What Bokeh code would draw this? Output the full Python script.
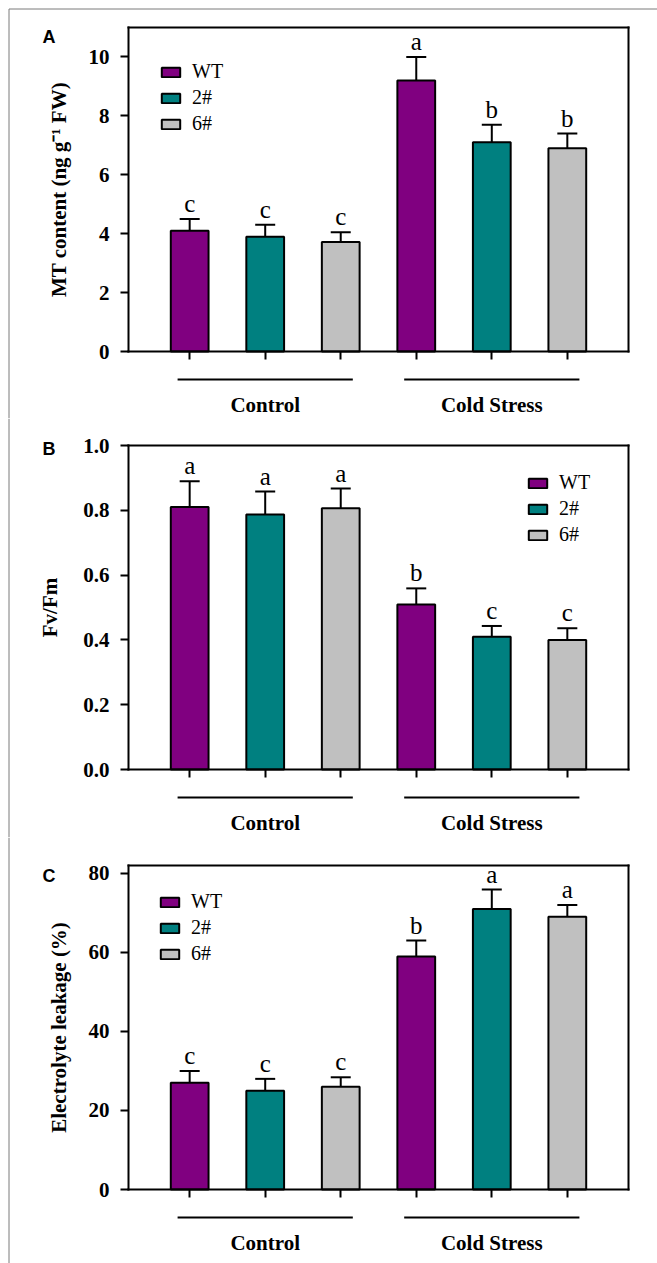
from bokeh.plotting import figure
from bokeh.models import (Range1d, FixedTicker, Whisker, TeeHead, LinearAxis,
                          Legend, LegendItem, ColumnDataSource, PrintfTickFormatter)
from bokeh.layouts import column
from bokeh.embed import file_html
from bokeh.resources import INLINE
from bokeh.core.properties import value

# ---------------- data ----------------
groups = ["Control", "Cold Stress"]
lines = ["WT", "2#", "6#"]
colors = ["#800080", "#008080", "#C0C0C0"]
panel_letters = ["A", "B", "C"]

# order: Control WT, 2#, 6#, Cold Stress WT, 2#, 6#
mt_mean = [4.1, 3.9, 3.72, 9.2, 7.1, 6.9]
mt_err = [0.4, 0.4, 0.33, 0.8, 0.6, 0.5]
mt_sig = ["c", "c", "c", "a", "b", "b"]

fvfm_mean = [0.81, 0.787, 0.806, 0.509, 0.41, 0.40]
fvfm_err = [0.08, 0.071, 0.061, 0.05, 0.033, 0.036]
fvfm_sig = ["a", "a", "a", "b", "c", "c"]

el_mean = [27.0, 25.0, 26.0, 59.0, 71.0, 69.0]
el_err = [3.0, 3.0, 2.4, 4.0, 4.9, 3.0]
el_sig = ["c", "c", "c", "b", "a", "a"]

mt_ticks = [0, 2, 4, 6, 8, 10]
fvfm_ticks = [0.0, 0.2, 0.4, 0.6, 0.8, 1.0]
el_ticks = [0, 20, 40, 60, 80]

# ---------------- layout constants ----------------
FIG_W = 657
BOX_L = 128          # left edge of the plot box inside the figure (px)
BOX_W = 500
BOX_H = 324
X0, X1 = 0.19, 6.81  # data x at the box edges
PPX = BOX_W / (X1 - X0)
SERIF = "Liberation Serif"
BORDER = "#7a7a7a"


def style_axis(ax):
    ax.axis_line_width = 2
    ax.axis_line_color = "black"
    ax.axis_line_cap = "square"
    ax.major_tick_line_width = 2
    ax.major_tick_line_color = "black"
    ax.major_tick_in = 0
    ax.major_tick_out = 8
    ax.minor_tick_line_color = None


def panel(means, errs, sigs, ymax, ticks, fmt, ytitle, letter, letter_top,
          leg_xy, h, top, title_standoff, border_top):
    ppy = BOX_H / ymax
    bottom = h - top - BOX_H
    xs0 = X0 - BOX_L / PPX
    xs1 = X1 + (FIG_W - BOX_L - BOX_W) / PPX
    ys0 = -bottom / ppy
    ys1 = ymax + top / ppy

    p = figure(width=FIG_W, height=h, x_range=Range1d(xs0, xs1), y_range=Range1d(ys0, ys1),
               output_backend="svg", toolbar_location=None, min_border=0)
    p.grid.visible = False
    p.outline_line_color = None
    p.background_fill_color = "white"
    p.border_fill_color = "white"

    xs = [g * 3 + s + 1 for g in range(len(groups)) for s in range(len(lines))]
    items = []
    for s, name in enumerate(lines):
        idx = [s, s + 3]
        src = ColumnDataSource(dict(
            x=[xs[i] for i in idx],
            top=[means[i] for i in idx],
            upper=[means[i] + errs[i] for i in idx],
            sig=[sigs[i] for i in idx]))
        r = p.vbar(x="x", top="top", width=0.5, bottom=0, source=src,
                   fill_color=colors[s], line_color="black", line_width=2)
        items.append(LegendItem(label=name, renderers=[r]))
        w = Whisker(source=src, base="x", upper="upper", lower="top",
                    upper_head=TeeHead(size=20, line_width=2, line_color="black"),
                    lower_head=None, line_width=2, line_color="black", level="glyph")
        p.add_layout(w)
        p.text(x="x", y="upper", text="sig", source=src, text_font=value(SERIF),
               text_font_size="25px", text_align="center", text_baseline="bottom",
               y_offset=-2, text_color="black")

    # axes, fixed at the plot box
    xa = p.xaxis[0]
    ya = p.yaxis[0]
    style_axis(xa)
    style_axis(ya)
    xa.fixed_location = 0
    xa.bounds = (X0, X1)
    xa.ticker = FixedTicker(ticks=xs)
    xa.major_label_overrides = {x: "" for x in xs}
    xa.major_label_text_font_size = "1px"
    ya.fixed_location = X0
    ya.bounds = (0, ymax)
    ya.ticker = FixedTicker(ticks=ticks)
    ya.formatter = PrintfTickFormatter(format=fmt)
    ya.major_label_text_font = SERIF
    ya.major_label_text_font_style = "bold"
    ya.major_label_text_font_size = "21px"
    ya.major_label_text_color = "black"
    ya.major_label_standoff = 11
    ya.axis_label = ytitle
    ya.axis_label_text_font = SERIF
    ya.axis_label_text_font_style = "bold"
    ya.axis_label_text_font_size = "21px"
    ya.axis_label_text_color = "black"
    ya.axis_label_standoff = title_standoff

    top_ax = LinearAxis(fixed_location=ymax, bounds=(X0, X1), ticker=FixedTicker(ticks=[]),
                        major_label_text_font_size="1px")
    style_axis(top_ax)
    top_ax.major_tick_line_color = None
    p.add_layout(top_ax, "above")
    right_ax = LinearAxis(fixed_location=X1, bounds=(0, ymax), ticker=FixedTicker(ticks=[]),
                          major_label_text_font_size="1px")
    style_axis(right_ax)
    right_ax.major_tick_line_color = None
    p.add_layout(right_ax, "right")

    leg = Legend(items=items, location=leg_xy, glyph_width=23, glyph_height=12,
                 label_standoff=10, label_height=12, spacing=3, padding=0, margin=0,
                 border_line_color=None, background_fill_alpha=0,
                 label_text_font=SERIF, label_text_font_size="20px",
                 label_text_color="black")
    p.add_layout(leg)

    # group lines and labels below the axis
    gc = [g * 3 + 2 for g in range(len(groups))]
    p.segment(x0=[c - 1.16 for c in gc], x1=[c + 1.16 for c in gc],
              y0=[-28 / ppy] * len(gc), y1=[-28 / ppy] * len(gc),
              line_width=2, line_color="black")
    p.text(x=gc, y=[-53 / ppy] * len(gc), text=groups, text_align="center",
           text_baseline="middle", text_font=value(SERIF), text_font_style="bold",
           text_font_size="21px", text_color="black")

    # panel letter
    p.text(x=[xs0 + 42 / PPX], y=[ys1 - letter_top / ppy], text=[letter],
           text_align="left", text_baseline="top", text_font=value("Liberation Sans"),
           text_font_style="bold", text_font_size="18px", text_color="black")

    # page border (left, and top for the first panel)
    bx = xs0 + 8.5 / PPX
    if border_top:
        by = ys1 - 8.5 / ppy
        p.segment(x0=[bx], x1=[xs1], y0=[by], y1=[by], line_width=1, line_color=BORDER)
        p.segment(x0=[bx], x1=[bx], y0=[ys0], y1=[by], line_width=1, line_color=BORDER)
    else:
        p.segment(x0=[bx], x1=[bx], y0=[ys0], y1=[ys1], line_width=1, line_color=BORDER)
    return p


pA = panel(mt_mean, mt_err, mt_sig, 11, mt_ticks, "%d",
           "MT content (ng g\u207b\u00b9 FW)", panel_letters[0], 26,
           (159, 283), 418, 27, 15, True)
pB = panel(fvfm_mean, fvfm_err, fvfm_sig, 1.0, fvfm_ticks, "%.1f",
           "Fv/Fm", panel_letters[1], 20, (526, 291), 419, 27, 18, False)
pC = panel(el_mean, el_err, el_sig, 82, el_ticks, "%d",
           "Electrolyte leakage (%)", panel_letters[2], 28, (158, 298), 426, 28, 15, False)

layout = column(pA, pB, pC, spacing=0)

open("out.html", "w").write(file_html(layout, INLINE))
